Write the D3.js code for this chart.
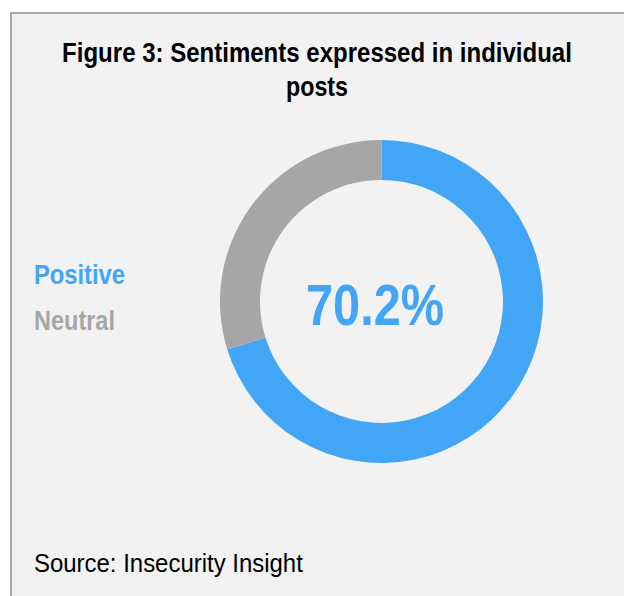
<!DOCTYPE html>
<html>
<head>
<meta charset="utf-8">
<script src="https://cdn.jsdelivr.net/npm/d3@7"></script>
<style>
  html, body { margin: 0; padding: 0; background: #ffffff; }
  svg { display: block; }
</style>
</head>
<body>
<svg id="chart" width="624" height="596"></svg>
<script>
// Sentiment shares of individual posts
const categories = ["Positive", "Neutral"];
const shares = [70.2, 29.8];
const colors = ["#42a5f5", "#a6a6a6"];
const titleLines = ["Figure 3: Sentiments expressed in individual", "posts"];
const sourceText = "Source: Insecurity Insight";

const fontFamily = "'Liberation Sans', Arial, sans-serif";
const svg = d3.select("#chart");

// Condensed lettering: draw the text, then squeeze it horizontally to a set width
function condensedText(parent, str, opts) {
  const g = parent.append("g");
  const t = g.append("text")
    .attr("font-family", fontFamily)
    .attr("font-weight", opts.weight || "normal")
    .attr("font-size", opts.size)
    .attr("fill", opts.fill || "#000")
    .attr("text-anchor", opts.anchor || "start")
    .text(str);
  const natural = t.node().getComputedTextLength();
  const sx = opts.width / natural;
  g.attr("transform", `translate(${opts.x},${opts.y}) scale(${sx},1)`);
  return g;
}

// Panel with a grey frame
svg.append("rect")
  .attr("x", 11).attr("y", 13)
  .attr("width", 700).attr("height", 700)
  .attr("fill", "#f2f2f2")
  .attr("stroke", "#a6a6a6")
  .attr("stroke-width", 2);

// Title
const titleWidths = [510, 62];
titleLines.forEach((line, i) => {
  condensedText(svg, line, {
    x: 317, y: 62 + i * 34, size: 28, weight: "bold",
    anchor: "middle", width: titleWidths[i]
  });
});

// Donut
const cx = 381.5, cy = 301.5;
const outerR = 161.5, innerR = 121.5;
const pie = d3.pie().sort(null).value(d => d)(shares);
const arc = d3.arc().innerRadius(innerR).outerRadius(outerR);
const color = d3.scaleOrdinal().domain(categories).range(colors);

svg.append("g")
  .attr("transform", `translate(${cx},${cy})`)
  .selectAll("path")
  .data(pie)
  .join("path")
  .attr("d", arc)
  .attr("fill", (d, i) => color(categories[i]));

// Center value
condensedText(svg, d3.format(".1f")(shares[0]) + "%", {
  x: 375, y: 325, size: 58, weight: "bold",
  anchor: "middle", width: 138, fill: color(categories[0])
});

// Legend
const legendWidths = [91, 81];
categories.forEach((c, i) => {
  condensedText(svg, c, {
    x: 34, y: 284 + i * 46, size: 27, weight: "bold",
    width: legendWidths[i], fill: color(c)
  });
});

// Source note
condensedText(svg, sourceText, { x: 34, y: 572, size: 25, width: 269 });
</script>
</body>
</html>
